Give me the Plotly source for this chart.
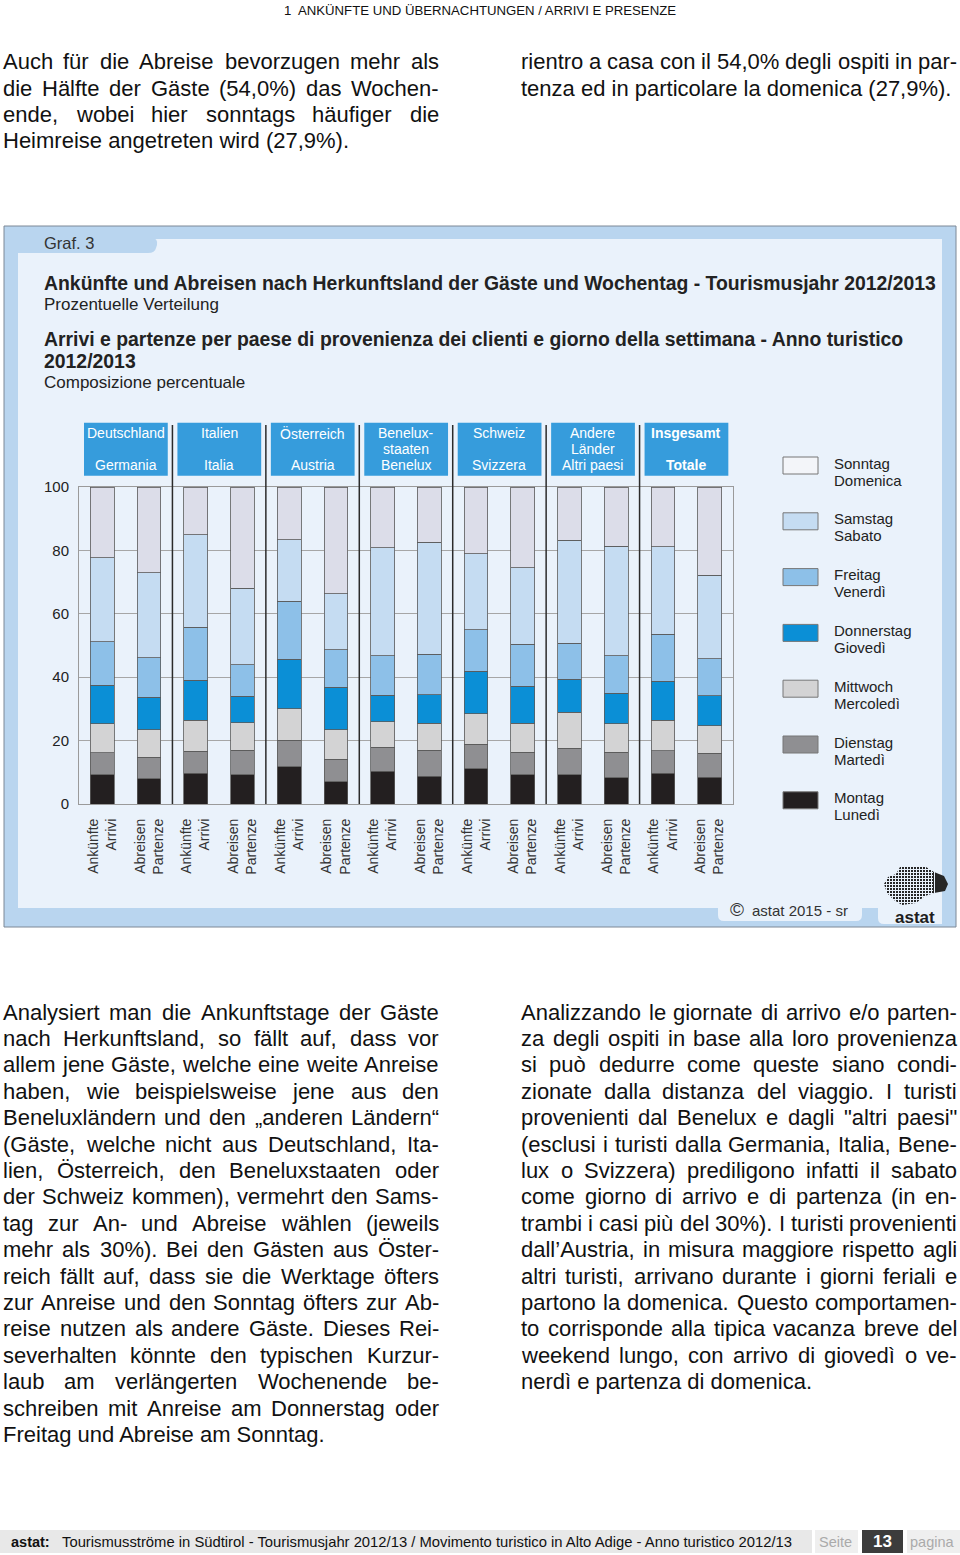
import plotly.graph_objects as go

# ---------------- data ----------------
categories = ["D_A", "D_P", "I_A", "I_P", "AT_A", "AT_P", "BNL_A", "BNL_P",
              "CH_A", "CH_P", "OTH_A", "OTH_P", "TOT_A", "TOT_P"]
tick_labels = ["Ankünfte<br>Arrivi", "Abreisen<br>Partenze"] * 7

montag     = [9.3, 7.9, 9.7, 9.3, 11.8, 7.0, 10.3, 8.7, 11.2, 9.3, 9.3, 8.3, 9.7, 8.5]
dienstag   = [6.9, 6.9, 6.9, 7.7, 8.3, 7.1, 7.6, 8.3, 7.7, 7.1, 8.3, 8.1, 7.1, 7.5]
mittwoch   = [9.1, 8.6, 9.8, 8.7, 9.9, 9.3, 8.0, 8.4, 9.5, 9.0, 11.3, 8.9, 9.7, 8.7]
donnerstag = [12.1, 10.3, 12.7, 8.3, 15.7, 13.5, 8.4, 9.1, 13.5, 11.7, 10.5, 9.6, 12.3, 9.4]
freitag    = [13.8, 12.5, 16.6, 10.0, 18.3, 11.8, 12.5, 12.7, 13.1, 13.3, 11.3, 11.9, 14.7, 11.8]
samstag    = [26.5, 26.7, 29.3, 24.0, 19.4, 17.7, 34.0, 35.3, 24.0, 24.2, 32.5, 34.5, 27.6, 26.2]
sonntag    = [22.3, 27.1, 15.0, 32.0, 16.6, 33.6, 19.2, 17.5, 21.0, 25.4, 16.8, 18.7, 18.9, 27.9]

day_names_de = ["Montag", "Dienstag", "Mittwoch", "Donnerstag", "Freitag", "Samstag", "Sonntag"]
day_names_it = ["Lunedì", "Martedì", "Mercoledì", "Giovedì", "Venerdì", "Sabato", "Domenica"]
day_values = [montag, dienstag, mittwoch, donnerstag, freitag, samstag, sonntag]
day_colors = ["#231f20", "#8f8f92", "#d3d3d4", "#0b8fd6", "#8dc0e8", "#c5dcf2", "#dcdde9"]

group_labels = [("Deutschland", "", "Germania"), ("Italien", "", "Italia"),
                ("Österreich", "", "Austria"), ("Benelux-", "staaten", "Benelux"),
                ("Schweiz", "", "Svizzera"), ("Andere", "Länder", "Altri paesi"),
                ("Insgesamt", "", "Totale")]

y_ticks = [0, 20, 40, 60, 80, 100]

# ---------------- helpers ----------------
WPX, HPX = 960, 1555
PL, PR, PT, PB = 79, 733, 487, 804      # plot area in page pixels
FONT = "Liberation Sans, Arial, Helvetica, sans-serif"
PANEL = "#eaf2fb"


def X(px):
    return (px - PL) / (PR - PL)


def Y(py):
    return (PB - py) / (PB - PT)


CW = {' ': 278, '!': 278, '"': 355, '%': 889, '(': 333, ')': 333, ',': 278, '-': 333,
      '.': 278, '/': 278, ':': 278, ';': 278, '„': 333, '“': 333, '’': 222, "'": 191,
      'A': 667, 'B': 667, 'C': 722, 'D': 722, 'E': 667, 'F': 611, 'G': 778, 'H': 722,
      'I': 278, 'J': 500, 'K': 667, 'L': 556, 'M': 833, 'N': 722, 'O': 778, 'P': 667,
      'Q': 778, 'R': 722, 'S': 667, 'T': 611, 'U': 722, 'V': 667, 'W': 944, 'X': 667,
      'Y': 667, 'Z': 611, 'a': 556, 'b': 556, 'c': 500, 'd': 556, 'e': 556, 'f': 278,
      'g': 556, 'h': 556, 'i': 222, 'j': 222, 'k': 500, 'l': 222, 'm': 833, 'n': 556,
      'o': 556, 'p': 556, 'q': 556, 'r': 333, 's': 500, 't': 278, 'u': 556, 'v': 500,
      'w': 722, 'x': 500, 'y': 500, 'z': 500, 'ä': 556, 'ö': 556, 'ü': 556, 'Ä': 667,
      'Ö': 778, 'Ü': 722, 'ò': 556, 'ù': 556, 'ì': 278, 'è': 556, 'à': 556, 'é': 556}


def text_w(s, size):
    return sum(CW.get(c, 556) for c in s) * size / 1000.0


annotations = []
shapes = []


def ann(text, x, y, size, color="#111", xanchor="left", yanchor="middle", bold=False, **kw):
    d = dict(text=text, x=X(x), y=Y(y), xref="paper", yref="paper", showarrow=False,
             xanchor=xanchor, yanchor=yanchor,
             font=dict(family=FONT, size=size, color=color, weight=700 if bold else 400))
    d.update(kw)
    annotations.append(d)


def paragraph(lines, x0, x1, y0, pitch, size, color="#111"):
    for i, line in enumerate(lines):
        y = y0 + i * pitch
        if i == len(lines) - 1:
            ann(line, x0 - 2, y, size, color)
            continue
        words = line.split(" ")
        widths = [text_w(w, size) for w in words]
        gap = (x1 - x0 - sum(widths)) / (len(words) - 1)
        x = x0
        for w, wd in zip(words, widths):
            ann(w, x + wd / 2, y, size, color, xanchor="center")
            x += wd + gap


def rect(x0, y0, x1, y1, fill, line=None, lw=0, xref="paper", layer="below"):
    if xref == "paper":
        xx0, xx1 = X(x0), X(x1)
    else:
        xx0, xx1 = x0, x1
    shapes.append(dict(type="rect", xref=xref, yref="paper", x0=xx0, x1=xx1, y0=Y(y1), y1=Y(y0),
                       fillcolor=fill, line=dict(color=line or fill, width=lw), layer=layer))


def path(pts_cmds, fill, layer="below"):
    s = ""
    for cmd, *pts in pts_cmds:
        s += cmd
        for i in range(0, len(pts), 2):
            s += f" {X(pts[i]):.5f},{Y(pts[i + 1]):.5f}"
        s += " "
    shapes.append(dict(type="path", xref="paper", yref="paper", path=s.strip(),
                       fillcolor=fill, line=dict(width=0), layer=layer))


def pline(x0, y0, x1, y1, color, width, layer="above"):
    shapes.append(dict(type="line", xref="paper", yref="paper", x0=X(x0), x1=X(x1),
                       y0=Y(y0), y1=Y(y1), line=dict(color=color, width=width), layer=layer))


# ---------------- figure / bars ----------------
fig = go.Figure()
positions = list(range(len(categories)))
for de, it, vals, col in zip(day_names_de, day_names_it, day_values, day_colors):
    fig.add_trace(go.Bar(x=positions, y=vals, name=f"{de} / {it}", width=0.51,
                         marker=dict(color=col, line=dict(color="#5a5a5a", width=0.8)),
                         showlegend=False,
                         hovertemplate="%{y:.1f}%<extra>" + de + "</extra>"))

# ---------------- chart panel ----------------
rect(4, 226, 956, 927, "#b9d5ef", line="#7d8896", lw=1)
rect(18, 239, 942, 908, PANEL)
path([("M", 18, 238), ("L", 152, 238), ("Q", 158, 238, 157, 245), ("L", 156, 248),
      ("Q", 155, 253, 148, 253), ("L", 18, 253), ("Z",)], "#b9d5ef")
path([("M", 718, 900), ("L", 862, 900), ("L", 862, 915), ("Q", 862, 921, 856, 921),
      ("L", 724, 921), ("Q", 718, 921, 718, 915), ("Z",)], PANEL)
path([("M", 878, 900), ("L", 942, 900), ("L", 942, 924), ("L", 884, 924),
      ("Q", 878, 924, 878, 918), ("Z",)], PANEL)

# group header boxes and separators
for g, lab in enumerate(group_labels):
    x0 = 2 * g - 0.5
    rect(x0 + 0.107, 422.7, x0 + 2 - 0.1, 475.7, "#369cdc", xref="x")
    bold = (g == len(group_labels) - 1)
    for k, t in enumerate(lab):
        if t:
            annotations.append(dict(text=t, x=2 * g + 0.5, xref="x", y=Y(433 + 16 * k), yref="paper",
                                    showarrow=False, xanchor="center", yanchor="middle",
                                    font=dict(family=FONT, size=14, color="white",
                                              weight=700 if bold else 400)))
    if g > 0:
        shapes.append(dict(type="line", xref="x", yref="paper", x0=x0, x1=x0, y0=Y(804), y1=Y(425),
                           line=dict(color="#2b2b2b", width=1.5), layer="above"))

# custom legend
legend_order = list(range(6, -1, -1))
for i, d in enumerate(legend_order):
    top = 457 + 55.8 * i
    shapes.append(dict(type="rect", xref="paper", yref="paper", x0=X(783), x1=X(818),
                       y0=Y(top + 17), y1=Y(top), fillcolor=day_colors[d] if d != 6 else "#f3f5f9",
                       line=dict(color="#777", width=1), layer="above"))
    ann(day_names_de[d], 832, top + 6, 15, "#222")
    ann(day_names_it[d], 832, top + 23, 15, "#222")

# titles in panel
ann("Graf. 3", 42, 243, 16.5, "#333")
ann("Ankünfte und Abreisen nach Herkunftsland der Gäste und Wochentag - Tourismusjahr 2012/2013",
    42, 283, 19.4, "#222", bold=True)
ann("Prozentuelle Verteilung", 42, 304, 17, "#222")
ann("Arrivi e partenze per paese di provenienza dei clienti e giorno della settimana - Anno turistico",
    42, 339, 19.4, "#222", bold=True)
ann("2012/2013", 42, 361, 19.4, "#222", bold=True)
ann("Composizione percentuale", 42, 382, 17, "#222")

# copyright + logo (dotted silhouette)
ann("©", 728, 909, 19, "#333")
ann("astat 2015 - sr", 750, 910, 15, "#333")
path([("M", 884, 884), ("L", 888, 877), ("L", 896, 874), ("L", 900, 867), ("L", 912, 866),
      ("L", 926, 867), ("L", 934, 872), ("L", 944, 876), ("L", 948, 884), ("L", 945, 891),
      ("L", 934, 893), ("L", 925, 896), ("L", 916, 903), ("L", 902, 905), ("L", 894, 900),
      ("L", 887, 893), ("Z",)], "#262626", layer="above")
for k in range(14):
    pline(880, 866.5 + 3 * k, 933, 866.5 + 3 * k, PANEL, 1)
for k in range(18):
    pline(883.5 + 3 * k, 862, 883.5 + 3 * k, 908, PANEL, 1)
ann("astat", 915, 917, 17, "#1e1e1e", xanchor="center", bold=True)

# ---------------- page texts ----------------
ann("1  ANKÜNFTE UND ÜBERNACHTUNGEN / ARRIVI E PRESENZE", 480, 10, 13.2, "#111", xanchor="center")

paragraph(["Auch für die Abreise bevorzugen mehr als",
           "die Hälfte der Gäste (54,0%) das Wochen-",
           "ende, wobei hier sonntags häufiger die",
           "Heimreise angetreten wird (27,9%)."], 3, 439, 62, 26.3, 22)
paragraph(["rientro a casa con il 54,0% degli ospiti in par-",
           "tenza ed in particolare la domenica (27,9%)."], 521, 957, 62, 26.3, 22)

paragraph(["Analysiert man die Ankunftstage der Gäste",
           "nach Herkunftsland, so fällt auf, dass vor",
           "allem jene Gäste, welche eine weite Anreise",
           "haben, wie beispielsweise jene aus den",
           "Beneluxländern und den „anderen Ländern“",
           "(Gäste, welche nicht aus Deutschland, Ita-",
           "lien, Österreich, den Beneluxstaaten oder",
           "der Schweiz kommen), vermehrt den Sams-",
           "tag zur An- und Abreise wählen (jeweils",
           "mehr als 30%). Bei den Gästen aus Öster-",
           "reich fällt auf, dass sie die Werktage öfters",
           "zur Anreise und den Sonntag öfters zur Ab-",
           "reise nutzen als andere Gäste. Dieses Rei-",
           "severhalten könnte den typischen Kurzur-",
           "laub am verlängerten Wochenende be-",
           "schreiben mit Anreise am Donnerstag oder",
           "Freitag und Abreise am Sonntag."], 3, 439, 1012, 26.4, 22)

paragraph(["Analizzando le giornate di arrivo e/o parten-",
           "za degli ospiti in base alla loro provenienza",
           "si può dedurre come queste siano condi-",
           "zionate dalla distanza del viaggio. I turisti",
           "provenienti dal Benelux e dagli \"altri paesi\"",
           "(esclusi i turisti dalla Germania, Italia, Bene-",
           "lux o Svizzera) prediligono infatti il sabato",
           "come giorno di arrivo e di partenza (in en-",
           "trambi i casi più del 30%). I turisti provenienti",
           "dall’Austria, in misura maggiore rispetto agli",
           "altri turisti, arrivano durante i giorni feriali e",
           "partono la domenica. Questo comportamen-",
           "to corrisponde alla tipica vacanza breve del",
           "weekend lungo, con arrivo di giovedì o ve-",
           "nerdì e partenza di domenica."], 521, 957, 1012, 26.4, 22)

# ---------------- footer ----------------
rect(0, 1530, 812, 1553, "#e8e8e8")
rect(815, 1530, 858, 1553, "#efefef")
rect(862, 1530, 903, 1553, "#3c3c3c")
rect(907, 1530, 960, 1553, "#efefef")
ann("astat:", 9, 1542, 14.5, "#111", bold=True)
ann("Tourismusströme in Südtirol - Tourismusjahr 2012/13 / Movimento turistico in Alto Adige - Anno turistico 2012/13",
    60, 1542, 14.8, "#111")
ann("Seite", 836, 1542, 14.5, "#aaaaaa", xanchor="center")
ann("13", 882, 1541, 17, "white", xanchor="center", bold=True)
ann("pagina", 932, 1542, 14.5, "#aaaaaa", xanchor="center")

# ---------------- layout ----------------
fig.update_layout(
    width=WPX, height=HPX,
    margin=dict(l=PL, r=WPX - PR, t=PT, b=HPX - PB, autoexpand=False),
    barmode="stack",
    paper_bgcolor="white", plot_bgcolor="white",
    font=dict(family=FONT, color="#222"),
    showlegend=False,
    shapes=shapes,
    annotations=annotations,
    xaxis=dict(range=[-0.5, 13.5], tickmode="array", tickvals=positions, ticktext=tick_labels,
               tickangle=-90, tickfont=dict(size=14, color="#333"), showgrid=False,
               showline=True, mirror=True, linecolor="#9a9a9a", linewidth=1, ticks="",
               ticklabelstandoff=8, zeroline=False, fixedrange=True),
    yaxis=dict(range=[0, 100], tickmode="array", tickvals=y_ticks, tickfont=dict(size=15, color="#222"),
               showgrid=True, gridcolor="#a6a6a6", gridwidth=1, showline=True, mirror=True,
               linecolor="#9a9a9a", linewidth=1, ticks="", ticklabelstandoff=6, zeroline=False,
               fixedrange=True),
)

fig.write_html("out.html")
